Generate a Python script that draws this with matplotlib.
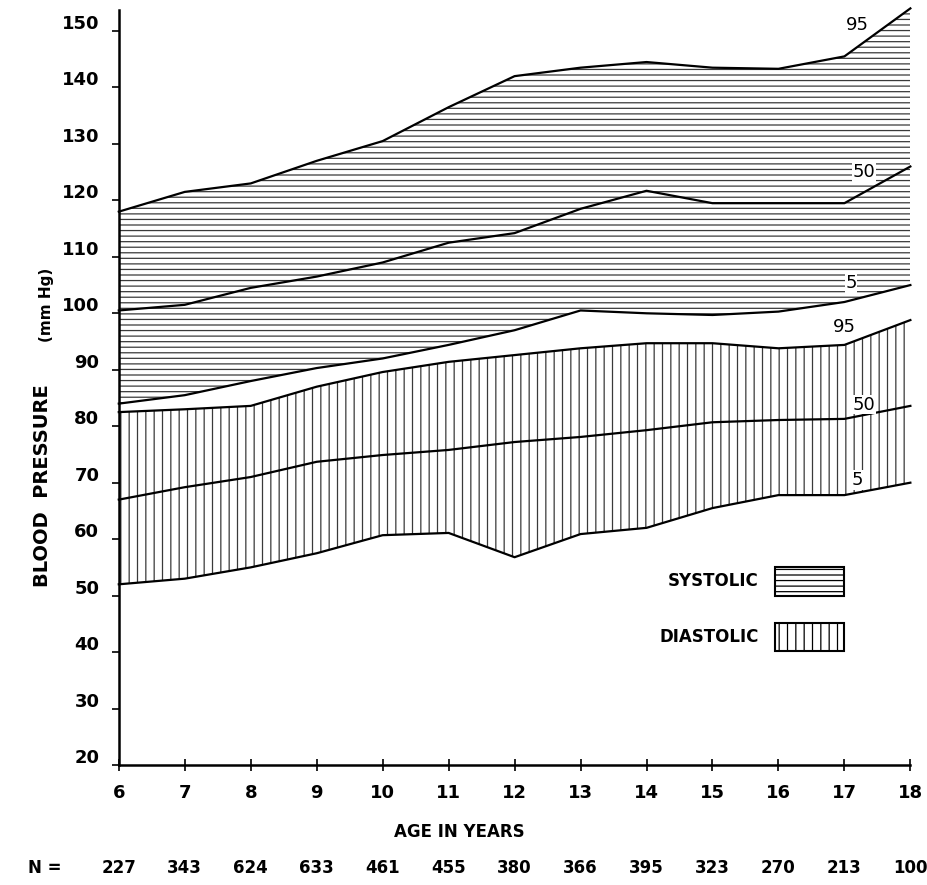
import matplotlib.pyplot as plt
from matplotlib.patches import Rectangle
from matplotlib.transforms import ScaledTranslation

# === Data (percentiles of blood pressure by age) ===
ages = [6, 7, 8, 9, 10, 11, 12, 13, 14, 15, 16, 17, 18]
n_counts = ["227", "343", "624", "633", "461", "455", "380", "366", "395", "323", "270", "213", "100"]

sys_95 = [118, 121.5, 123, 127, 130.5, 136.5, 142, 143.5, 144.5, 143.5, 143.3, 145.5, 154]
sys_50 = [100.5, 101.5, 104.5, 106.5, 109, 112.5, 114.2, 118.5, 121.7, 119.5, 119.5, 119.5, 126]
sys_5 = [84, 85.5, 88, 90.3, 92, 94.4, 97, 100.5, 100, 99.7, 100.3, 102, 105]

dia_95 = [82.5, 83, 83.6, 87, 89.6, 91.4, 92.6, 93.8, 94.7, 94.7, 93.8, 94.4, 98.8]
dia_50 = [67, 69.2, 71, 73.7, 74.9, 75.8, 77.2, 78.1, 79.3, 80.7, 81.1, 81.3, 83.6]
dia_5 = [52, 53, 55, 57.5, 60.7, 61.1, 56.8, 60.9, 62, 65.5, 67.8, 67.8, 70]

y_ticks = [20, 30, 40, 50, 60, 70, 80, 90, 100, 110, 120, 130, 140, 150]

# === Plot configuration ===
plt.rcParams["font.family"] = "DejaVu Sans"
plt.rcParams["font.weight"] = "bold"
plt.rcParams["hatch.linewidth"] = 0.9
plt.rcParams["hatch.color"] = "#3a3a3a"

fig = plt.figure(figsize=(9.28, 8.85), dpi=100)
ax = fig.add_axes([0.128, 0.1356, 0.853, 0.853])

# Hatched bands
ax.fill_between(ages, sys_5, sys_95, facecolor="white", edgecolor="#3a3a3a",
                hatch="---", linewidth=0)
ax.fill_between(ages, dia_5, dia_95, facecolor="white", edgecolor="#3a3a3a",
                hatch="||", linewidth=0)

# Percentile lines
for series in [sys_95, sys_50, sys_5, dia_95, dia_50, dia_5]:
    ax.plot(ages, series, color="black", linewidth=1.6, clip_on=False)

# Percentile labels
lbl_kw = dict(fontsize=13, fontweight="normal", ha="center", va="center", color="black",
              bbox=dict(facecolor="white", edgecolor="none", pad=0.5))
ax.text(17.2, 151.0, "95", **lbl_kw)
ax.text(17.3, 125.0, "50", **lbl_kw)
ax.text(17.1, 105.4, "5", **lbl_kw)
ax.text(17.0, 97.6, "95", **lbl_kw)
ax.text(17.3, 83.8, "50", **lbl_kw)
ax.text(17.2, 70.5, "5", **lbl_kw)

# Legend drawn as labelled boxes
ax.text(15.7, 52.5, "SYSTOLIC", fontsize=12, ha="right", va="center")
ax.add_patch(Rectangle((15.95, 50.0), 1.05, 5.0, facecolor="white",
                       edgecolor="black", hatch="---", linewidth=1.5))
ax.text(15.7, 42.7, "DIASTOLIC", fontsize=12, ha="right", va="center")
ax.add_patch(Rectangle((15.95, 40.2), 1.05, 5.0, facecolor="white",
                       edgecolor="black", hatch="||", linewidth=1.5))

# Axes styling
ax.set_xlim(6, 18)
ax.set_ylim(20, 153.7)
ax.spines["top"].set_visible(False)
ax.spines["right"].set_visible(False)
ax.spines["left"].set_linewidth(1.8)
ax.spines["bottom"].set_linewidth(1.8)
ax.set_xticks(ages)
ax.set_xticklabels([str(a) for a in ages], fontsize=13)
ax.set_yticks(y_ticks)
ax.set_yticklabels([str(t) for t in y_ticks], fontsize=13)
ax.tick_params(axis="x", direction="inout", length=8, width=1.2, pad=10)
ax.tick_params(axis="y", direction="out", length=5, width=1.2, pad=9)

# y tick labels sit a little above their ticks in the original
shift = ScaledTranslation(0, 9 / 100, fig.dpi_scale_trans)
for lab in ax.get_yticklabels():
    lab.set_transform(lab.get_transform() + shift)

ax.set_ylabel("BLOOD  PRESSURE", fontsize=14, fontweight="bold")
ax.yaxis.set_label_coords(-0.084, 0.37)
fig.text(0.05, 0.655, "(mm Hg)", rotation=90, fontsize=11, ha="center", va="center")

fig.text(0.495, 0.06, "AGE IN YEARS", fontsize=12, ha="center", va="center")

# Sample sizes under each age
fig.text(0.03, 0.019, "N =", fontsize=12, ha="left", va="center")
for age, n in zip(ages, n_counts):
    x_fig = 0.128 + 0.853 * (age - 6) / 12
    fig.text(x_fig, 0.019, n, fontsize=12, ha="center", va="center")

plt.savefig("out.png", dpi=100)
